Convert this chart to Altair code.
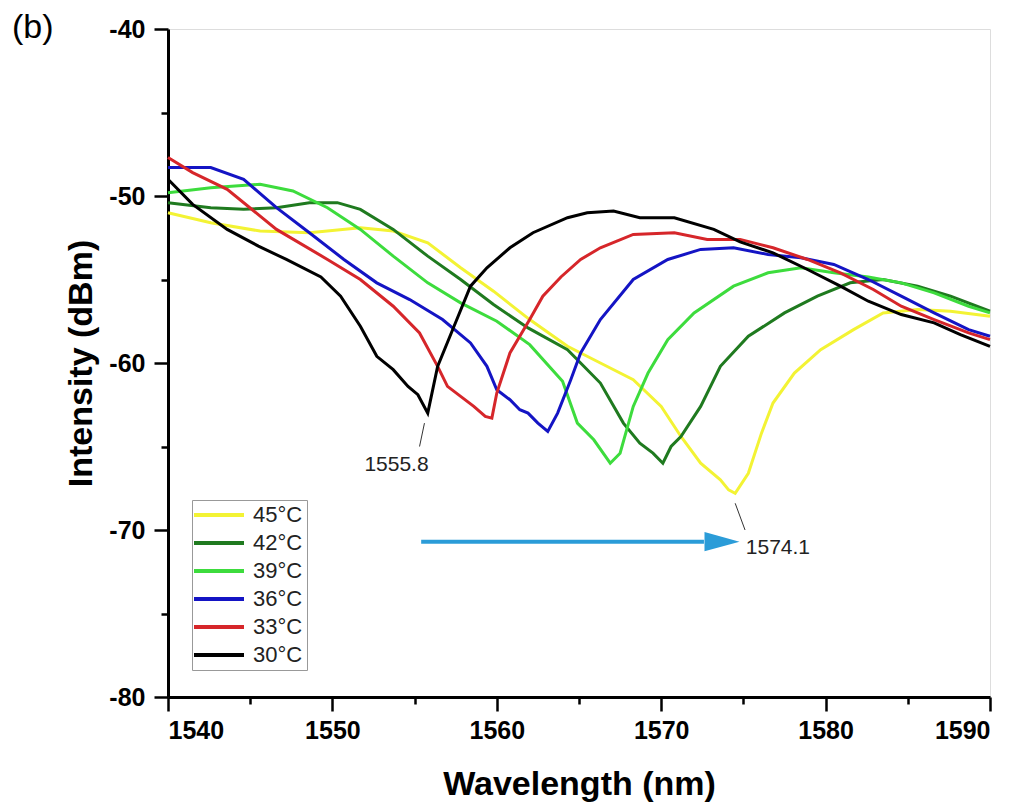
import altair as alt
import pandas as pd

series = ["45°C", "42°C", "39°C", "36°C", "33°C", "30°C"]
colors = ["#f3f334", "#1f7a1f", "#3ddc3d", "#1414c4", "#d6262a", "#000000"]

x30 = [1540, 1541.5, 1543.6, 1545.5, 1547.2, 1549.3, 1550.5, 1551.7, 1552.7, 1553.7, 1554.6, 1555.2, 1555.8,
       1556.4, 1557.4, 1558.4, 1559.4, 1560.8, 1562.2, 1564.3, 1565.5, 1567.1, 1568.7, 1570.8, 1573.2, 1574.8,
       1576.8, 1578.9, 1580.9, 1582.6, 1584.6, 1586.6, 1588.2, 1590]
y30 = [-49.0, -50.5, -52.0, -53.0, -53.8, -54.85, -56.0, -57.8, -59.6, -60.4, -61.4, -61.9, -63.0,
       -60.2, -57.8, -55.4, -54.3, -53.1, -52.2, -51.3, -51.0, -50.9, -51.3, -51.3, -52.0, -52.75,
       -53.4, -54.4, -55.4, -56.3, -57.1, -57.6, -58.3, -59.0]

x33 = [1540, 1541.5, 1543.6, 1546.6, 1549.7, 1551.7, 1553.7, 1555.3, 1556.4, 1557.0, 1557.8, 1558.6, 1559.3,
       1559.7, 1560.0, 1560.8, 1562.0, 1562.8, 1563.9, 1565.1, 1566.3, 1568.3, 1570.8, 1572.8, 1574.8, 1576.8,
       1578.9, 1580.9, 1582.9, 1584.6, 1586.6, 1588.7, 1590]
y33 = [-47.7, -48.6, -49.6, -52.0, -53.8, -55.0, -56.6, -58.2, -60.2, -61.4, -62.0, -62.6, -63.2,
       -63.3, -61.8, -59.4, -57.4, -56.0, -54.85, -53.8, -53.1, -52.3, -52.2, -52.6, -52.6, -53.1,
       -53.8, -54.6, -55.6, -56.6, -57.4, -58.2, -58.6]

x36 = [1540, 1542.6, 1544.6, 1546.6, 1548.6, 1550.7, 1552.7, 1554.7, 1556.7, 1558.4, 1559.4, 1560.0, 1560.8,
       1561.4, 1561.9, 1562.5, 1563.1, 1563.7, 1564.5, 1565.1, 1566.3, 1568.3, 1570.4, 1572.4, 1574.4, 1576.5,
       1578.5, 1580.5, 1582.6, 1584.6, 1586.6, 1588.7, 1590]
y36 = [-48.3, -48.3, -49.0, -50.7, -52.2, -53.8, -55.2, -56.2, -57.4, -58.8, -60.2, -61.6, -62.2,
       -62.8, -63.0, -63.6, -64.1, -63.0, -61.0, -59.4, -57.4, -55.0, -53.8, -53.2, -53.1, -53.5,
       -53.7, -54.1, -55.0, -56.0, -57.0, -58.0, -58.4]

x39 = [1540, 1542.6, 1545.6, 1547.6, 1549.7, 1551.7, 1553.7, 1555.8, 1557.8, 1560.0, 1562.0, 1564.0, 1564.9,
       1565.9, 1566.9, 1567.5, 1568.3, 1569.2, 1570.4, 1572.0, 1574.4, 1576.5, 1578.5, 1580.5, 1582.6, 1584.6,
       1586.6, 1588.7, 1590]
y39 = [-49.8, -49.5, -49.3, -49.7, -50.7, -52.0, -53.6, -55.2, -56.4, -57.5, -58.9, -61.1, -63.6,
       -64.6, -66.0, -65.4, -62.6, -60.6, -58.6, -57.0, -55.4, -54.6, -54.3, -54.6, -54.85, -55.2,
       -55.8, -56.6, -57.0]

x42 = [1540, 1542.6, 1544.6, 1546.6, 1548.6, 1550.3, 1551.7, 1553.7, 1555.8, 1557.8, 1559.8, 1561.9, 1564.3,
       1566.3, 1567.7, 1568.7, 1569.5, 1570.1, 1570.6, 1571.2, 1572.4, 1573.6, 1575.3, 1577.5, 1579.5, 1581.5,
       1583.5, 1585.6, 1587.6, 1590]
y42 = [-50.4, -50.7, -50.8, -50.7, -50.4, -50.4, -50.8, -52.0, -53.6, -55.0, -56.5, -57.9, -59.2,
       -61.2, -63.6, -64.8, -65.4, -66.0, -65.0, -64.4, -62.6, -60.2, -58.4, -57.0, -56.0, -55.2,
       -55.0, -55.4, -56.0, -56.9]

x45 = [1540, 1542.6, 1545.6, 1548.6, 1551.7, 1553.7, 1555.8, 1557.8, 1559.8, 1562.0, 1564.3, 1566.3, 1568.3,
       1570.0, 1571.2, 1572.4, 1573.6, 1574.1, 1574.5, 1575.3, 1576.1, 1576.8, 1578.1, 1579.7, 1581.7, 1583.5,
       1585.6, 1587.6, 1590]
y45 = [-51.0, -51.6, -52.1, -52.2, -51.9, -52.1, -52.8, -54.3, -55.7, -57.4, -59.0, -60.0, -61.0,
       -62.6, -64.4, -66.0, -67.0, -67.6, -67.8, -66.6, -64.2, -62.4, -60.6, -59.2, -58.0, -57.0,
       -56.8, -56.9, -57.2]

# annotations
ann_x = [1553.9, 1577.1]
ann_y = [-66.1, -71.1]
ann_text = ["1555.8", "1574.1"]
lead_x1 = [1555.6, 1574.5]
lead_y1 = [-63.6, -68.4]
lead_x2 = [1555.3, 1575.1]
lead_y2 = [-65.0, -70.0]
arrow_x1 = [1555.4]
arrow_x2 = [1572.6]
arrow_head_x = [1573.7]
arrow_y = [-70.7]

rows = []
for name, xs, ys in [("45°C", x45, y45), ("42°C", x42, y42), ("39°C", x39, y39),
                     ("36°C", x36, y36), ("33°C", x33, y33), ("30°C", x30, y30)]:
    for a, b in zip(xs, ys):
        rows.append({"series": name, "wl": a, "dbm": b})
df = pd.DataFrame(rows)

FONT = "Liberation Sans"
xscale = alt.Scale(domain=[1540, 1590], nice=False, zero=False)
yscale = alt.Scale(domain=[-80, -40], nice=False, zero=False)

major_test = "datum.value % 10 === 0"
xaxis = alt.Axis(values=list(range(1540, 1591, 5)),
                 labelExpr="datum.value % 10 === 0 ? toString(datum.value) : ''",
                 tickSize={"condition": {"test": major_test, "value": 14}, "value": 7},
                 grid=False, domainColor="black", domainWidth=3, tickColor="black", tickWidth=2.5,
                 labelFont=FONT, labelFontSize=25, labelFontWeight="bold", labelColor="black",
                 labelPadding=7, titleFont=FONT, titleFontSize=34, titleFontWeight="bold",
                 titleColor="black", titlePadding=24)
yaxis = alt.Axis(values=list(range(-80, -39, 5)),
                 labelExpr="datum.value % 10 === 0 ? toString(datum.value) : ''",
                 tickSize={"condition": {"test": major_test, "value": 14}, "value": 7},
                 grid=False, domainColor="black", domainWidth=3, tickColor="black", tickWidth=2.5,
                 labelFont=FONT, labelFontSize=25, labelFontWeight="bold", labelColor="black",
                 labelPadding=9, titleFont=FONT, titleFontSize=34, titleFontWeight="bold",
                 titleColor="black", titlePadding=10)


def X(field):
    return alt.X(field, type="quantitative", scale=xscale, axis=xaxis, title="Wavelength (nm)")


def Y(field):
    return alt.Y(field, type="quantitative", scale=yscale, axis=yaxis, title="Intensity (dBm)")


lines = alt.Chart(df).mark_line(strokeWidth=3).encode(
    x=X("wl"), y=Y("dbm"),
    color=alt.Color("series:N", scale=alt.Scale(domain=series, range=colors), title=None,
                    legend=alt.Legend(orient="none", legendX=24, legendY=471,
                                      symbolType="M-5,0H5", symbolSize=100, symbolStrokeWidth=4,
                                      symbolOffset=12, labelOffset=23, labelFont=FONT,
                                      labelFontSize=22, labelColor="#222222", strokeColor="#999999",
                                      fillColor="white", padding=4, rowPadding=6)),
    detail="series:N",
)

arrow_df = pd.DataFrame({"wl": arrow_x1, "wl2": arrow_x2, "dbm": arrow_y})
arrow_line = alt.Chart(arrow_df).mark_rule(color="#2b9cd8", strokeWidth=4).encode(
    x=X("wl"), x2="wl2:Q", y=Y("dbm"))
head_df = pd.DataFrame({"wl": arrow_head_x, "dbm": arrow_y})
arrow_head = alt.Chart(head_df).mark_point(shape="M-1,-0.55L1,0L-1,0.55Z", filled=True, size=1225,
                                           color="#2b9cd8", opacity=1, strokeWidth=0).encode(
    x=X("wl"), y=Y("dbm"))

lead_df = pd.DataFrame({"wl": lead_x1, "dbm": lead_y1, "wl2": lead_x2, "dbm2": lead_y2})
leaders = alt.Chart(lead_df).mark_rule(color="#333333", strokeWidth=1).encode(
    x=X("wl"), y=Y("dbm"), x2="wl2:Q", y2="dbm2:Q")

ann_df = pd.DataFrame({"wl": ann_x, "dbm": ann_y, "t": ann_text})
texts = alt.Chart(ann_df).mark_text(font=FONT, fontSize=21, color="#222222", align="center",
                                    baseline="middle").encode(x=X("wl"), y=Y("dbm"), text="t:N")

chart = alt.layer(lines, arrow_line, arrow_head, leaders, texts).properties(
    width=822, height=668,
    autosize=alt.AutoSizeParams(type="none"),
    padding={"left": 160, "top": 21, "right": 20, "bottom": 112},
    title=alt.TitleParams(text="(b)", anchor="start", frame="group", dx=-156, dy=32,
                          fontSize=34, fontWeight="normal", font=FONT, color="black"),
).configure_view(stroke="black", strokeWidth=2).configure(background="white")

chart.save("out.html", embed_options={"renderer": "svg", "actions": False})
